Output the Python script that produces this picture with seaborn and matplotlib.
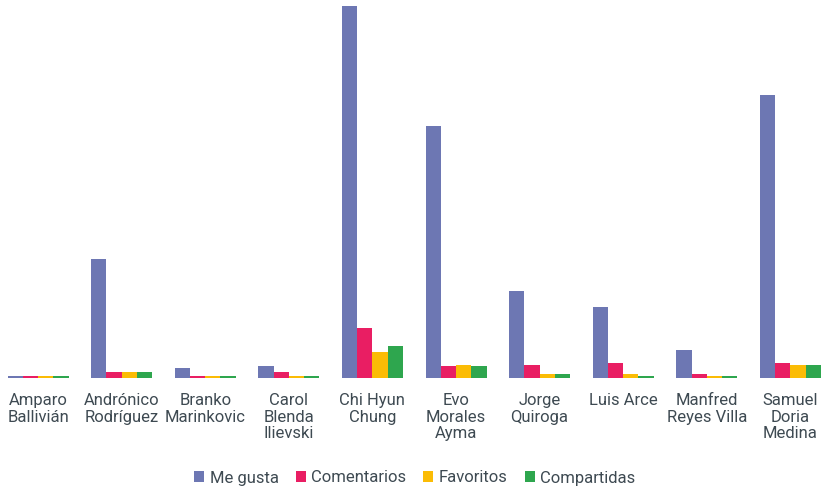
import pandas as pd
import matplotlib
matplotlib.use("Agg")
import matplotlib.pyplot as plt
import seaborn as sns

# Data (arbitrary units, no value axis shown)
candidatos = ["Amparo\nBallivián", "Andrónico\nRodríguez", "Branko\nMarinkovic",
              "Carol\nBlenda\nIlievski", "Chi Hyun\nChung", "Evo\nMorales\nAyma",
              "Jorge\nQuiroga", "Luis Arce", "Manfred\nReyes Villa",
              "Samuel\nDoria\nMedina"]
me_gusta = [2, 119, 10, 12, 372, 252, 87, 71, 28, 283]
comentarios = [2, 6, 2, 6, 50, 12, 13, 15, 4, 15]
favoritos = [2, 6, 2, 2, 26, 13, 4, 4, 2, 13]
compartidas = [2, 6, 2, 2, 32, 12, 4, 2, 2, 13]

series = ["Me gusta", "Comentarios", "Favoritos", "Compartidas"]
colores = ["#6d77b3", "#e91e63", "#fbbc05", "#2ea64e"]

df = pd.DataFrame({
    "candidato": candidatos * 4,
    "serie": [s for s in series for _ in candidatos],
    "valor": me_gusta + comentarios + favoritos + compartidas,
})

sns.set_theme(style="white")
plt.rcParams["font.family"] = ["Roboto", "DejaVu Sans"]

fig = plt.figure(figsize=(8.23, 4.91), dpi=100)
ax = fig.add_axes([0, 113 / 491, 1, 372 / 491])

sns.barplot(data=df, x="candidato", y="valor", hue="serie", hue_order=series,
            palette=colores, width=0.73, gap=0, saturation=1, linewidth=0, ax=ax)

ax.set_xlim(-0.455, 9.39)
ax.set_ylim(0, 372)
ax.set_xlabel("")
ax.set_ylabel("")
ax.set_yticks([])
ax.tick_params(axis="x", length=0, pad=11, labelsize=12, colors="#3e4a52")
sns.despine(ax=ax, left=True, bottom=True)
for lbl in ax.get_xticklabels():
    lbl.set_linespacing(1.12)

handles, labels = ax.get_legend_handles_labels()
ax.legend_.remove()
fig.legend(handles, labels, loc="center", bbox_to_anchor=(0.504, 1 - 478 / 491),
           ncol=4, frameon=False, fontsize=12, handlelength=0.6, handleheight=0.6,
           handletextpad=0.35, columnspacing=1.0, labelcolor="#3e4a52")

fig.savefig("out.png", dpi=100)
